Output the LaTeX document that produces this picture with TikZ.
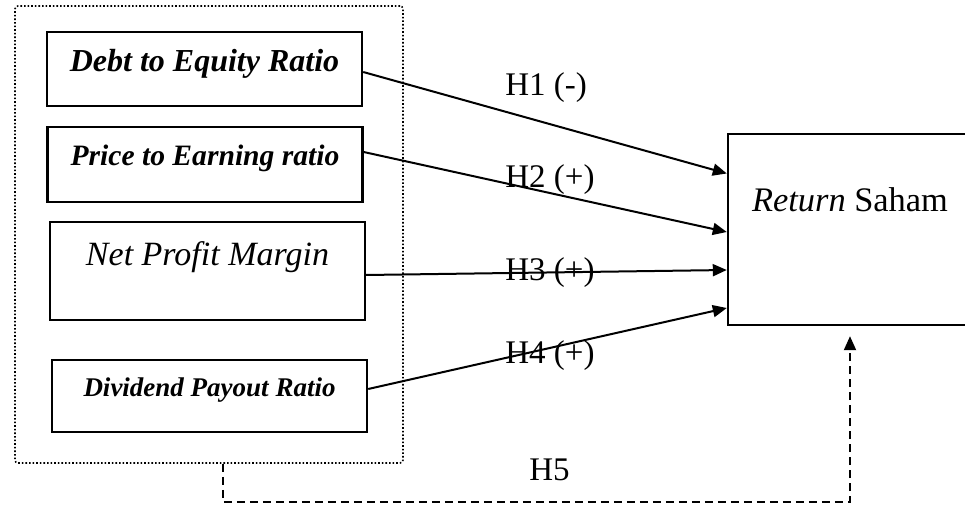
\documentclass[tikz,border=0pt]{standalone}
\usepackage{fontspec}
\setmainfont{Liberation Serif}
\usepackage{tikz}
\usetikzlibrary{arrows.meta}

\begin{document}
\begin{tikzpicture}[x=0.5pt, y=-0.5pt,
  box/.style={rectangle, draw=black, line width=1.2pt, minimum width=157.5pt,
    inner sep=0pt, align=center},
  arr/.style={-{Triangle[length=7pt,width=6pt]}, line width=1pt},
  hyp/.style={anchor=base west, inner sep=0pt, font=\fontsize{16.5}{19}\selectfont}
]
\useasboundingbox (0,0) rectangle (965,508);
% independent variables
\node[draw=black, densely dotted, line width=0.8pt, rounded corners=1.5pt,
  minimum width=194pt, minimum height=228.5pt] (indep) at (209,234.5) {};
\node[box, minimum height=37pt, text height=11pt, text depth=8pt,
  font=\fontsize{16}{19}\selectfont\bfseries\itshape] (der) at (204.5,69) {Debt to Equity Ratio};
\node[box, minimum height=37.5pt, text height=11pt, text depth=9.5pt,
  font=\fontsize{14.8}{18}\selectfont\bfseries\itshape] (per) at (205,164.5) {Price to Earning ratio};
\node[box, minimum height=49pt, text height=11pt, text depth=17pt,
  font=\fontsize{17}{20}\selectfont\itshape] (npm) at (207.5,271) {Net Profit Margin};
\node[box, minimum height=36pt, text height=8pt, text depth=8pt,
  font=\fontsize{13.5}{16}\selectfont\bfseries\itshape] (dpr) at (209.5,396) {Dividend Payout Ratio};
% dependent variable
\node[box, minimum width=122pt, minimum height=95.5pt, text height=11pt, text depth=28.5pt,
  font=\fontsize{17.2}{20}\selectfont] (ret) at (850,229.5) {\textit{Return} Saham};

\draw[arr] ([yshift=-1.5pt]der.east) -- ([yshift=28pt]ret.west);
\draw[arr] ([yshift=6.25pt]per.east) -- ([yshift=-1.25pt]ret.west);
\draw[arr] ([yshift=-2pt]npm.east) -- ([yshift=-20.25pt]ret.west);
\draw[arr] ([yshift=3.5pt]dpr.east) -- ([yshift=-39.25pt]ret.west);
\coordinate (h5) at (223,502);
\draw[arr, dash pattern=on 4pt off 2.5pt, shorten >=5pt]
  (indep.south -| h5) -- (h5) -| (ret.south);

\node[hyp] (h1) at (505,96) {H1 (-)};
\node[hyp] (h2) at (505,188) {H2 (+)};
\node[hyp] (h3) at (505,280) {H3 (+)};
\node[hyp] (h4) at (505,364) {H4 (+)};
\node[hyp] (h5l) at (529,480) {H5};
\end{tikzpicture}
\end{document}
